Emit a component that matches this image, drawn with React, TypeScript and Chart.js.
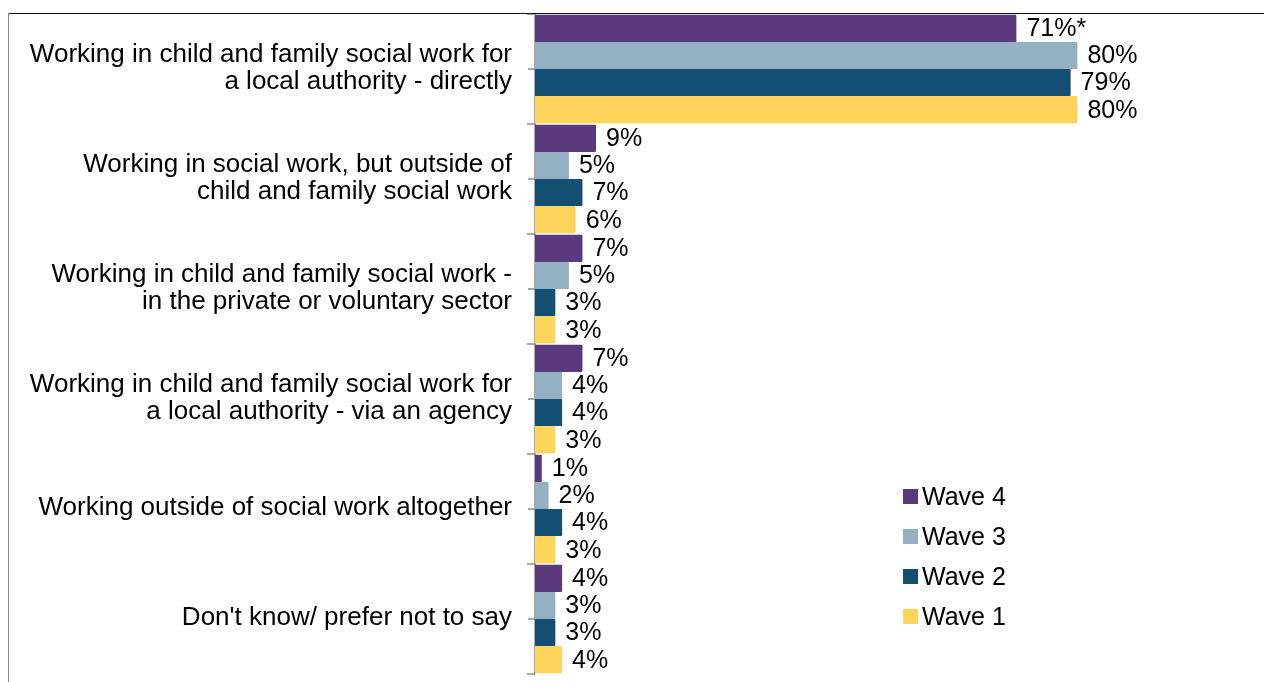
import React, { useEffect, useRef } from "react";
import { Chart, registerables } from "chart.js";
Chart.register(...registerables);

const categories: (string | string[])[] = [
  ["Working in child and family social work for", "a local authority - directly"],
  ["Working in social work, but outside of", "child and family social work"],
  ["Working in child and family social work -", "in the private or voluntary sector"],
  ["Working in child and family social work for", "a local authority - via an agency"],
  "Working outside of social work altogether",
  "Don't know/ prefer not to say",
];
const seriesNames = ["Wave 4", "Wave 3", "Wave 2", "Wave 1"];
const wave4 = [71, 9, 7, 7, 1, 4];
const wave3 = [80, 5, 5, 4, 2, 3];
const wave2 = [79, 7, 3, 4, 4, 3];
const wave1 = [80, 6, 3, 3, 3, 4];
const wave4Notes = ["*", "", "", "", "", ""];
const noNotes = ["", "", "", "", "", ""];
const colors = ["#5A3A7C", "#94B0C3", "#124F73", "#FFD45A"];

const FONT = "'Liberation Sans', Arial, sans-serif";

const axisPlugin = {
  id: "axisLine",
  beforeDatasetsDraw(chart: any) {
    const { ctx, chartArea, scales } = chart;
    const y = scales.y;
    const x0 = chartArea.left;
    ctx.save();
    ctx.strokeStyle = "#8c8c8c";
    ctx.lineWidth = 1.5;
    ctx.beginPath();
    ctx.moveTo(x0, chartArea.top);
    ctx.lineTo(x0, chartArea.bottom);
    for (let i = 0; i <= categories.length; i++) {
      const b = y.getPixelForValue(i - 0.5);
      ctx.moveTo(x0 - 8, b);
      ctx.lineTo(x0, b);
      if (i < categories.length) {
        const m = y.getPixelForValue(i);
        ctx.moveTo(x0 - 7, m);
        ctx.lineTo(x0 + 5, m);
      }
    }
    ctx.stroke();
    ctx.restore();
  },
};

const labelPlugin = {
  id: "valueLabels",
  afterDatasetsDraw(chart: any) {
    const { ctx } = chart;
    ctx.save();
    ctx.font = `25px ${FONT}`;
    ctx.fillStyle = "#000";
    ctx.textAlign = "left";
    ctx.textBaseline = "middle";
    chart.data.datasets.forEach((ds: any, di: number) => {
      const meta = chart.getDatasetMeta(di);
      meta.data.forEach((el: any, i: number) => {
        const txt = ds.data[i] + "%" + (ds.notes[i] || "");
        ctx.fillText(txt, el.x + 10, el.y + 1);
      });
    });
    ctx.restore();
  },
};

const legendPlugin = {
  id: "customLegend",
  afterDraw(chart: any) {
    const { ctx } = chart;
    ctx.save();
    ctx.font = `25px ${FONT}`;
    ctx.textAlign = "left";
    ctx.textBaseline = "middle";
    chart.data.datasets.forEach((ds: any, di: number) => {
      const cy = 497 + di * 40;
      ctx.fillStyle = ds.backgroundColor;
      ctx.fillRect(903, cy - 8, 15, 15);
      ctx.fillStyle = "#000";
      ctx.fillText(ds.label, 922, cy + 1);
    });
    ctx.restore();
  },
};

export default function App() {
  const ref = useRef<HTMLCanvasElement>(null);
  useEffect(() => {
    if (!ref.current) return;
    const series = [wave4, wave3, wave2, wave1];
    const notes = [wave4Notes, noNotes, noNotes, noNotes];
    const chart = new Chart(ref.current, {
      type: "bar",
      data: {
        labels: categories,
        datasets: series.map((d, i) => ({
          label: seriesNames[i],
          data: d,
          notes: notes[i],
          backgroundColor: colors[i],
          borderWidth: 0,
          borderRadius: 1,
          barPercentage: 1,
          categoryPercentage: 0.985,
        })) as any,
      },
      options: {
        indexAxis: "y",
        responsive: false,
        animation: false,
        devicePixelRatio: 1,
        layout: { padding: { top: 14, right: 51, bottom: 8, left: 0 } },
        plugins: { legend: { display: false }, tooltip: { enabled: false } },
        scales: {
          x: { display: false, min: 0, max: 100 },
          y: {
            grid: { display: false, drawTicks: false },
            border: { display: false },
            ticks: {
              autoSkip: false,
              padding: 23,
              color: "#000",
              labelOffset: -1,
              font: { family: FONT, size: 26, lineHeight: "27px" } as any,
            },
            afterFit: (s: any) => {
              s.width = 535;
              s.paddingTop = 0;
              s.paddingBottom = 0;
            },
          },
        },
      } as any,
      plugins: [axisPlugin, labelPlugin, legendPlugin],
    });
    return () => chart.destroy();
  }, []);

  return (
    <div style={{ position: "fixed", left: 0, top: 0, width: 1264, height: 682, overflow: "hidden", background: "#fff" }}>
      <canvas ref={ref} width={1264} height={682} style={{ position: "absolute", left: 0, top: 0 }} />
      <div style={{ position: "absolute", left: 8, top: 13, width: 1256, height: 1, background: "#111" }} />
      <div style={{ position: "absolute", left: 8, top: 13, width: 1, height: 669, background: "#888" }} />
    </div>
  );
}
